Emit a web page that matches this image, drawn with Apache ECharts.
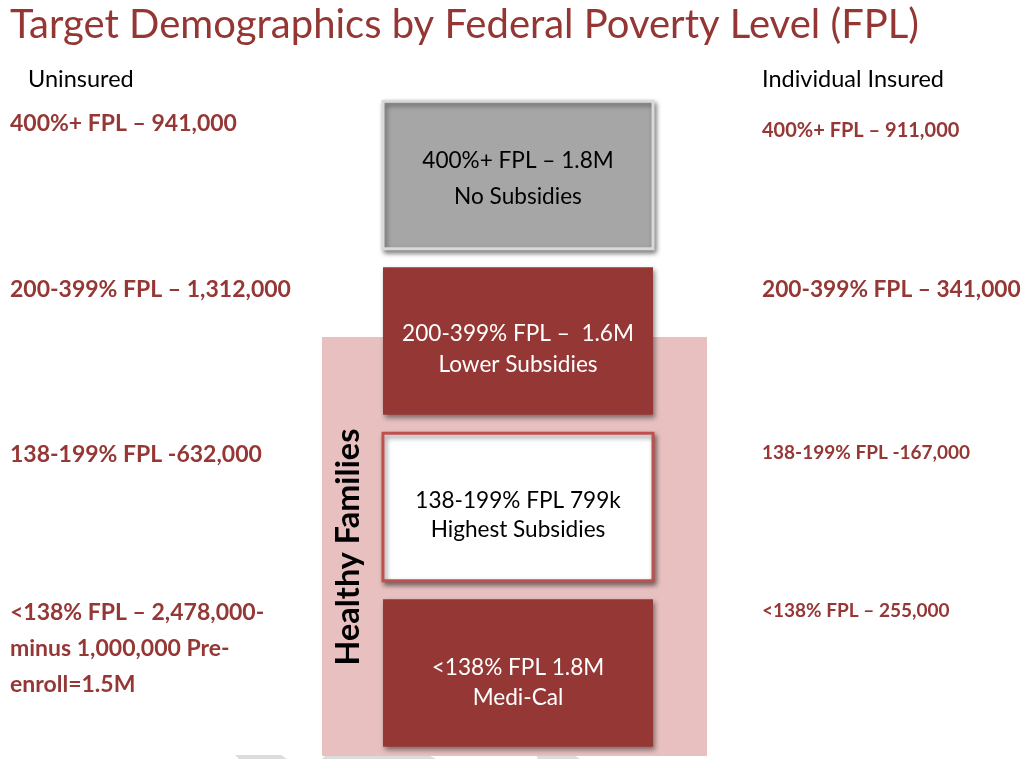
<!DOCTYPE html>
<html>
<head>
<meta charset="utf-8">
<script src="https://cdn.jsdelivr.net/npm/echarts@6/dist/echarts.min.js"></script>
<style>
  html, body { margin: 0; padding: 0; background: #fff; }
  #chart { width: 1023px; height: 759px; }
</style>
</head>
<body>
<div id="chart"></div>
<script>
// tiers, top to bottom
var tiers = ['400%+ FPL', '200-399% FPL', '138-199% FPL', '<138% FPL'];
var boxText = [
    '400%+ FPL – 1.8M\nNo Subsidies',
    '200-399% FPL –  1.6M\nLower Subsidies',
    '138-199% FPL 799k\nHighest Subsidies',
    '<138% FPL 1.8M\nMedi-Cal'
];
var uninsured = [
    '400%+ FPL – 941,000',
    '200-399% FPL – 1,312,000',
    '138-199% FPL -632,000',
    '<138% FPL – 2,478,000-\nminus 1,000,000 Pre-\nenroll=1.5M'
];
var individualInsured = [
    '400%+ FPL – 911,000',
    '200-399% FPL – 341,000',
    '138-199% FPL -167,000',
    '<138% FPL – 255,000'
];

var RED = '#953735';
var FONT = 'Lato, "Open Sans", sans-serif';

// look of each box
var boxStyle = [
    {fill: '#a6a6a6', stroke: '#d9d9d9', lineWidth: 3, color: '#000', lh: 36, dy: 3.5},
    {fill: RED, stroke: RED, lineWidth: 0, color: '#fff', lh: 31, dy: 8},
    {fill: '#fff', stroke: '#c0504d', lineWidth: 3, color: '#000', lh: 29, dy: 8.5},
    {fill: RED, stroke: RED, lineWidth: 0, color: '#fff', lh: 30, dy: 10}
];
var leftDy = [-69, -69, -70, -78];
var rightDy = [-62, -69, -72, -80];
var rightSize = [20, 22.7, 19, 19];

var chart = echarts.init(document.getElementById('chart'));

var option = {
    animation: false,
    grid: {left: 0, right: 0, top: 92, bottom: 3},
    xAxis: {type: 'value', min: 0, max: 1023, show: false},
    yAxis: {type: 'category', data: tiers, inverse: true, show: false},
    graphic: [
        {
            type: 'text', left: 10, top: 5,
            style: {text: 'Target Demographics by Federal Poverty Level (FPL)', fill: '#943634', font: '40px ' + FONT}
        },
        {type: 'text', left: 28, top: 67, style: {text: 'Uninsured', fill: '#000', font: '23.5px ' + FONT}},
        {type: 'text', left: 762, top: 67, style: {text: 'Individual Insured', fill: '#000', font: '23.5px ' + FONT}},
        // faint shapes cut off at the bottom edge
        {type: 'polygon', z: 0, shape: {points: [[235, 755], [281, 755], [287, 759], [239, 759]]}, style: {fill: '#dcdcdc'}},
        {type: 'polygon', z: 0, shape: {points: [[326, 755], [428, 755], [436, 759], [322, 759]]}, style: {fill: '#dcdcdc'}},
        {type: 'polygon', z: 0, shape: {points: [[536, 755], [574, 755], [580, 759], [538, 759]]}, style: {fill: '#dcdcdc'}},
        {
            type: 'rect', z: 1,
            shape: {x: 322, y: 337, width: 385, height: 419},
            style: {fill: '#e8c0c0'}
        },
        {
            type: 'text', z: 2, x: 349, y: 547, rotation: Math.PI / 2,
            style: {text: 'Healthy Families', fill: '#000', font: 'bold 32.4px ' + FONT, align: 'center', verticalAlign: 'middle'}
        }
    ],
    series: [
        {
            type: 'custom',
            z: 5,
            data: tiers.map(function (t, i) { return [518, i]; }),
            renderItem: function (params, api) {
                var i = params.dataIndex;
                var c = api.coord([api.value(0), api.value(1)]);
                var band = api.size([0, 1])[1];
                var w = api.size([270, 0])[0];
                var h = band * 0.89;
                var s = boxStyle[i];
                return {
                    type: 'group',
                    children: [
                        {
                            type: 'rect',
                            shape: {x: c[0] - w / 2, y: c[1] - h / 2, width: w, height: h},
                            style: {
                                fill: s.fill, stroke: s.stroke, lineWidth: s.lineWidth,
                                shadowBlur: 5, shadowOffsetX: 2, shadowOffsetY: 3, shadowColor: 'rgba(0,0,0,0.45)'
                            }
                        },
                        {
                            type: 'text', x: c[0], y: c[1] + s.dy,
                            style: {
                                text: boxText[i], fill: s.color, font: '22.6px ' + FONT,
                                lineHeight: s.lh, align: 'center', verticalAlign: 'middle'
                            }
                        }
                    ]
                };
            }
        },
        {
            type: 'custom',
            z: 5,
            data: tiers.map(function (t, i) { return [10, i]; }),
            renderItem: function (params, api) {
                var i = params.dataIndex;
                var c = api.coord([api.value(0), api.value(1)]);
                return {
                    type: 'text', x: c[0], y: c[1] + leftDy[i],
                    style: {
                        text: uninsured[i], fill: RED, font: 'bold 23px ' + FONT,
                        lineHeight: 36, align: 'left', verticalAlign: 'top'
                    }
                };
            }
        },
        {
            type: 'custom',
            z: 5,
            data: tiers.map(function (t, i) { return [762, i]; }),
            renderItem: function (params, api) {
                var i = params.dataIndex;
                var c = api.coord([api.value(0), api.value(1)]);
                return {
                    type: 'text', x: c[0], y: c[1] + rightDy[i],
                    style: {
                        text: individualInsured[i], fill: RED, font: 'bold ' + rightSize[i] + 'px ' + FONT,
                        lineHeight: 36, align: 'left', verticalAlign: 'top'
                    }
                };
            }
        }
    ]
};

chart.setOption(option);
</script>
</body>
</html>
